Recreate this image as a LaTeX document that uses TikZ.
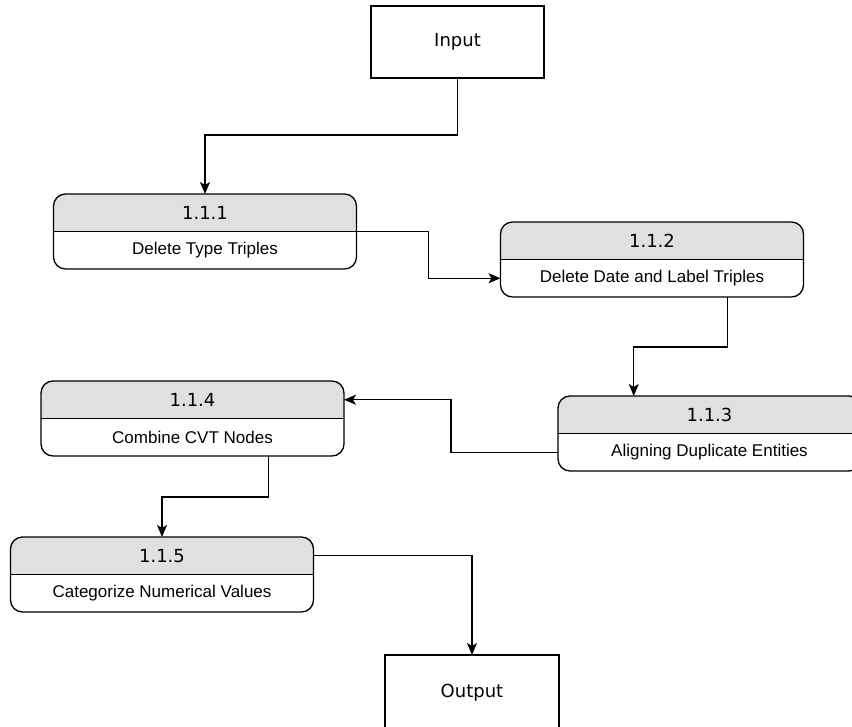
\documentclass[tikz,border=0pt]{standalone}
\usepackage{fontspec}
\setmainfont{Liberation Sans}
\newfontfamily\dejavu{DejaVu Sans}
\usetikzlibrary{arrows.meta,calc}

\definecolor{headgray}{HTML}{E0E0E0}

\tikzset{
  boxline/.style={draw=black, line width=1.3pt},
  pbox/.style={minimum width=303pt, minimum height=75pt, inner sep=0pt, outer sep=0pt},
  iobox/.style={boxline, fill=white, minimum width=173pt, minimum height=72pt,
    inner sep=0pt, outer sep=0pt, font=\dejavu\fontsize{18}{22}\selectfont},
  numtext/.style={font=\dejavu\fontsize{18}{22}\selectfont, inner sep=0pt},
  desctext/.style={font=\fontsize{17}{20}\selectfont, inner sep=0pt},
  flow/.style={draw=black, line width=1.3pt,
    -{Stealth[length=12pt, width=10pt, inset=3pt]}}
}

% process box: name, centre x, centre y, number, description
\newcommand\procbox[5]{%
  \node[pbox] (#1) at (#2,#3) {};
  \begin{scope}
    \clip[rounded corners=12pt] (#1.south west) rectangle (#1.north east);
    \fill[headgray] (#1.west) rectangle (#1.north east);
    \fill[white] (#1.west) rectangle (#1.south east);
  \end{scope}
  \draw[boxline] (#1.west) -- (#1.east);
  \draw[boxline, rounded corners=12pt] (#1.south west) rectangle (#1.north east);
  \node[numtext] (#1-num) at ($(#1.north)!0.5!(#1.center)$) {#4};
  \node[desctext] (#1-txt) at ($(#1.center)!0.5!(#1.south)$) {#5};
}

\begin{document}
\begin{tikzpicture}[x=1pt, y=-1pt]
  \useasboundingbox (0,0) rectangle (852,727);
  \clip (0,0) rectangle (852,727);

  % terminals
  \node[iobox] (in) at (457.5,42) {Input};
  \node[iobox, minimum width=174pt, minimum height=76pt] (out) at (472,693) {Output};

  % process steps
  \procbox{p1}{205}{231.5}{1.1.1}{Delete Type Triples}
  \procbox{p2}{652}{259.5}{1.1.2}{Delete Date and Label Triples}
  \procbox{p3}{709.5}{433.5}{1.1.3}{Aligning Duplicate Entities}
  \procbox{p4}{192.5}{418.5}{1.1.4}{Combine CVT Nodes}
  \procbox{p5}{162}{574.5}{1.1.5}{Categorize Numerical Values}

  % flow between steps
  \draw[flow] (in.south) -- ++(0,57) -| (p1.north);
  \draw[flow] (p1.east) -- ++(72,0) |- (p2.west |- p2-txt);
  \draw[flow] ($(p2.south)!0.5!(p2.south east)$) -- ++(0,50)
    -| ($(p3.north)!0.5!(p3.north west)$);
  \draw[flow] (p3.west |- p3-txt) -- ++(-107,0) |- (p4.east |- p4-num);
  \draw[flow] ($(p4.south)!0.5!(p4.south east)$) -- ++(0,41) -| (p5.north);
  \draw[flow] (p5.east |- p5-num) -| (out.north);
\end{tikzpicture}
\end{document}
